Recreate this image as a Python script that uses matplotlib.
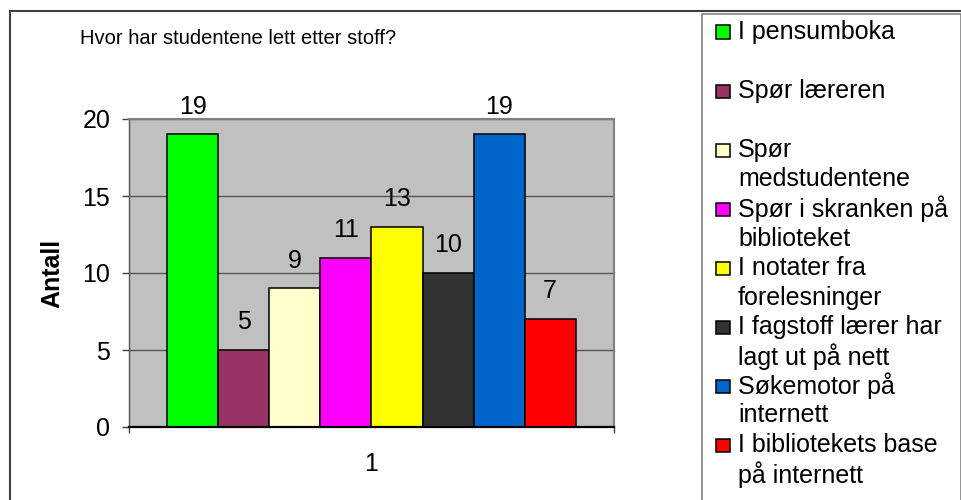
import numpy as np
import matplotlib.pyplot as plt
from matplotlib.patches import Rectangle
from matplotlib.lines import Line2D

# ---- data ----
categories = [
    "I pensumboka",
    "Spør læreren",
    "Spør\nmedstudentene",
    "Spør i skranken på\nbiblioteket",
    "I notater fra\nforelesninger",
    "I fagstoff lærer har\nlagt ut på nett",
    "Søkemotor på\ninternett",
    "I bibliotekets base\npå internett",
]
values = [19, 5, 9, 11, 13, 10, 19, 7]
colors = ["#00FF00", "#993366", "#FFFFCC", "#FF00FF",
          "#FFFF00", "#333333", "#0066CC", "#FF0000"]
x_labels = ["1"]
y_ticks = [0, 5, 10, 15, 20]
title = "Hvor har studentene lett etter stoff?"
y_label = "Antall"

plt.rcParams["font.family"] = ["Liberation Sans", "DejaVu Sans"]

W, H = 962, 500


def fx(px):
    return px / W


def fy(py):
    return 1 - py / H


fig = plt.figure(figsize=(W / 100, H / 100), dpi=100)

# outer chart border (only top and left are visible)
fig.add_artist(Line2D([fx(10), fx(10)], [fy(11), fy(520)], color="#404040", lw=1.5))
fig.add_artist(Line2D([fx(10), fx(980)], [fy(11), fy(11)], color="#404040", lw=1.5))

ax = fig.add_axes([fx(129), fy(427), (614 - 129) / W, (427 - 119) / H])
ax.set_facecolor("#C0C0C0")

# Excel style clustered bars, gap width 150%
n = len(values)
w = 1 / (n + 1.5)
xs = 1 - n / 2 * w + (np.arange(n) + 0.5) * w
ax.bar(xs, values, width=w, color=colors, edgecolor="black", linewidth=1.1, zorder=3)

for x, v in zip(xs, values):
    ax.annotate(str(v), (x, v), xytext=(0, 15), textcoords="offset points",
                ha="center", va="baseline", fontsize=18, color="black")

ax.set_xlim(0.5, 1.5)
ax.set_ylim(0, 20)
ax.set_yticks(y_ticks)
ax.set_xticks([1])
ax.set_xticklabels(x_labels)
ax.set_xticks([0.5, 1.5], minor=True)
ax.tick_params(axis="x", which="major", length=0, pad=18, labelsize=18)
ax.tick_params(axis="x", which="minor", length=4, width=1, color="#404040")
ax.tick_params(axis="y", length=5, width=1, color="#404040", pad=8.5, labelsize=18)

ax.yaxis.grid(True, color="#555555", linewidth=1.0)
ax.set_axisbelow(True)
for side in ["top", "right"]:
    ax.spines[side].set_color("#808080")
    ax.spines[side].set_linewidth(1.5)
ax.spines["left"].set_color("#555555")
ax.spines["left"].set_linewidth(1.0)
ax.spines["bottom"].set_color("black")
ax.spines["bottom"].set_linewidth(1.6)
ax.spines["bottom"].set_zorder(4)

fig.text(fx(238), fy(39), title, ha="center", va="center", fontsize=14.5)
fig.text(fx(52), fy(273), y_label, rotation=90, ha="center", va="center",
         fontsize=18, fontweight="bold")

# legend box
fig.add_artist(Rectangle((fx(702), fy(520)), (961 - 702) / W, (520 - 14) / H,
                         transform=fig.transFigure, fill=False,
                         ec="#808080", lw=1.2))
for i, (lab, c) in enumerate(zip(categories, colors)):
    cy = 32 + 59 * i
    fig.add_artist(Rectangle((fx(716), fy(cy + 6.5)), 14 / W, 13 / H,
                             transform=fig.transFigure, fc=c, ec="black", lw=1.1))
    for k, line in enumerate(lab.split("\n")):
        fig.text(fx(738), fy(cy + 29.5 * k), line, ha="left", va="center",
                 fontsize=18)

fig.savefig("out.png", dpi=100)
